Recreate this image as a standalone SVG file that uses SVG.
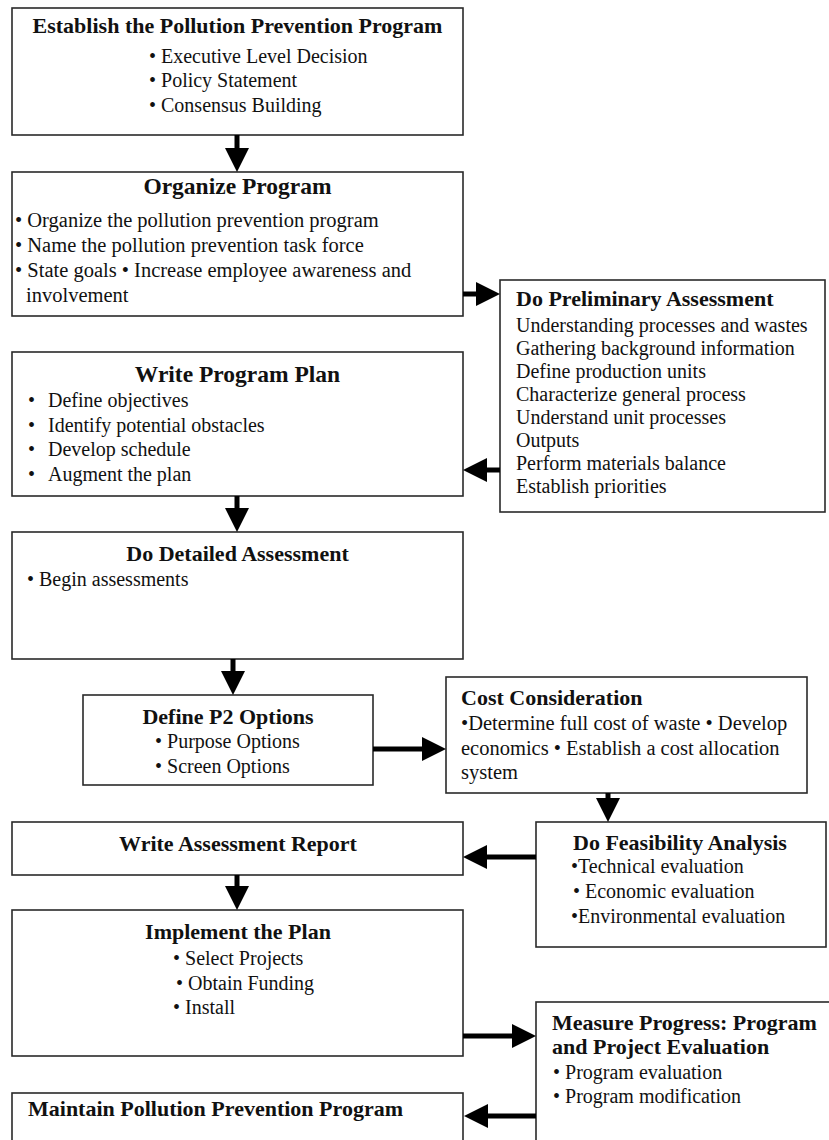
<svg xmlns="http://www.w3.org/2000/svg" width="829" height="1140" viewBox="0 0 829 1140">
<style>
  .box { fill: #ffffff; stroke: #2a2a2a; stroke-width: 1.6; }
  text { font-family: "Liberation Serif", "Times New Roman", serif; fill: #111111; }
  .t { font-size: 22px; font-weight: bold; }
  .tl { font-size: 23.5px; font-weight: bold; }
  .b { font-size: 20px; }
  .bl { font-size: 20.5px; }
  .c { text-anchor: middle; }
  .conn { stroke: #000000; stroke-width: 5; fill: none; }
</style>
<defs>
  <marker id="ah" markerUnits="userSpaceOnUse" markerWidth="24" markerHeight="24" refX="0" refY="12" orient="auto" overflow="visible">
    <path d="M0,0 L24,12 L0,24 Z" fill="#000000"/>
  </marker>
</defs>
<rect x="0" y="0" width="829" height="1140" fill="#ffffff"/>

<g id="establish">
  <rect class="box" x="12" y="8" width="451" height="127"/>
  <text class="t c" x="237.5" y="33">Establish the Pollution Prevention Program</text>
  <text class="b" x="149" y="63">• Executive Level Decision</text>
  <text class="b" x="149" y="87">• Policy Statement</text>
  <text class="b" x="149" y="112">• Consensus Building</text>
</g>

<g id="organize">
  <rect class="box" x="12" y="172" width="451" height="144"/>
  <text class="tl c" x="237.5" y="194">Organize Program</text>
  <text class="bl" x="15" y="227">• Organize the pollution prevention program</text>
  <text class="bl" x="15" y="252">• Name the pollution prevention task force</text>
  <text class="bl" x="15" y="277">• State goals • Increase employee awareness and</text>
  <text class="bl" x="26" y="302">involvement</text>
</g>

<g id="preliminary">
  <rect class="box" x="500" y="280" width="325" height="232"/>
  <text class="t" x="516" y="306">Do Preliminary Assessment</text>
  <text class="b" x="516" y="332">Understanding processes and wastes</text>
  <text class="b" x="516" y="355">Gathering background information</text>
  <text class="b" x="516" y="378">Define production units</text>
  <text class="b" x="516" y="401">Characterize general process</text>
  <text class="b" x="516" y="424">Understand unit processes</text>
  <text class="b" x="516" y="447">Outputs</text>
  <text class="b" x="516" y="470">Perform materials balance</text>
  <text class="b" x="516" y="493">Establish priorities</text>
</g>

<g id="plan">
  <rect class="box" x="12" y="352" width="451" height="144"/>
  <text class="tl c" x="237.5" y="382">Write Program Plan</text>
  <text class="b" x="28" y="407">•</text><text class="b" x="48" y="407">Define objectives</text>
  <text class="b" x="28" y="432">•</text><text class="b" x="48" y="432">Identify potential obstacles</text>
  <text class="b" x="28" y="456">•</text><text class="b" x="48" y="456">Develop schedule</text>
  <text class="b" x="28" y="481">•</text><text class="b" x="48" y="481">Augment the plan</text>
</g>

<g id="detailed">
  <rect class="box" x="12" y="532" width="451" height="127"/>
  <text class="t c" x="237.5" y="561">Do Detailed Assessment</text>
  <text class="b" x="27" y="586">• Begin assessments</text>
</g>

<g id="options">
  <rect class="box" x="83" y="695" width="290" height="90"/>
  <text class="t c" x="228" y="724">Define P2 Options</text>
  <text class="b" x="155" y="748">• Purpose Options</text>
  <text class="b" x="155" y="773">• Screen Options</text>
</g>

<g id="cost">
  <rect class="box" x="446" y="677" width="361" height="116"/>
  <text class="t" x="461" y="705">Cost Consideration</text>
  <text class="bl" x="461" y="730">•Determine full cost of waste • Develop</text>
  <text class="bl" x="461" y="755">economics • Establish a cost allocation</text>
  <text class="bl" x="461" y="779">system</text>
</g>

<g id="feasibility">
  <rect class="box" x="536" y="822" width="290" height="125"/>
  <text class="t" x="573" y="850">Do Feasibility Analysis</text>
  <text class="b" x="571" y="873">•Technical evaluation</text>
  <text class="b" x="573" y="898">• Economic evaluation</text>
  <text class="b" x="571" y="923">•Environmental evaluation</text>
</g>

<g id="report">
  <rect class="box" x="12" y="822" width="451" height="53"/>
  <text class="t c" x="238" y="851">Write Assessment Report</text>
</g>

<g id="implement">
  <rect class="box" x="12" y="910" width="451" height="146"/>
  <text class="t c" x="238" y="939">Implement the Plan</text>
  <text class="b" x="173" y="965">• Select Projects</text>
  <text class="b" x="176" y="990">• Obtain Funding</text>
  <text class="b" x="173" y="1014">• Install</text>
</g>

<g id="measure">
  <rect class="box" x="536" y="1002" width="310" height="200"/>
  <text class="t" x="552" y="1030">Measure Progress: Program</text>
  <text class="t" x="552" y="1054">and Project Evaluation</text>
  <text class="b" x="553" y="1079">• Program evaluation</text>
  <text class="b" x="553" y="1103">• Program modification</text>
</g>

<g id="maintain">
  <rect class="box" x="12" y="1093" width="451" height="100"/>
  <text class="t" x="28" y="1116">Maintain Pollution Prevention Program</text>
</g>

<g id="connectors">
  <path class="conn" d="M237,135 V148" marker-end="url(#ah)"/>
  <path class="conn" d="M463,294 H476" marker-end="url(#ah)"/>
  <path class="conn" d="M500,470 H487" marker-end="url(#ah)"/>
  <path class="conn" d="M237,496 V508" marker-end="url(#ah)"/>
  <path class="conn" d="M233,659 V671" marker-end="url(#ah)"/>
  <path class="conn" d="M373,749 H422" marker-end="url(#ah)"/>
  <path class="conn" d="M608,793 V798" marker-end="url(#ah)"/>
  <path class="conn" d="M536,857 H487" marker-end="url(#ah)"/>
  <path class="conn" d="M237,875 V886" marker-end="url(#ah)"/>
  <path class="conn" d="M463,1036 H512" marker-end="url(#ah)"/>
  <path class="conn" d="M536,1116 H488" marker-end="url(#ah)"/>
</g>
</svg>
